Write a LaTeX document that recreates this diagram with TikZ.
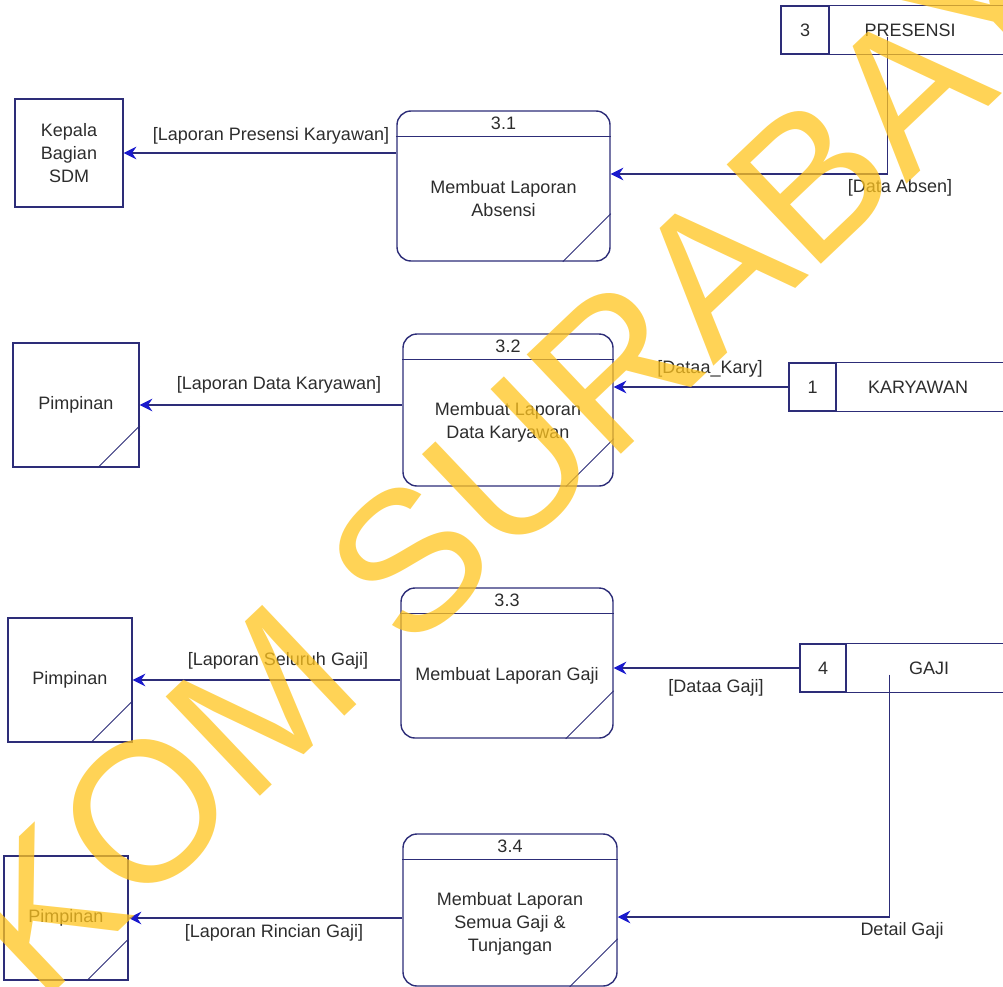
\documentclass[tikz,border=0pt]{standalone}
\usepackage{fontspec}
\setmainfont{Liberation Sans}
\usetikzlibrary{arrows.meta,calc}
\definecolor{dfdline}{RGB}{45,45,120}
\definecolor{dfdtip}{RGB}{25,25,205}
\definecolor{dfdtext}{RGB}{45,45,45}
\definecolor{markyellow}{RGB}{255,196,30}
\newcommand{\px}{0.025cm}
\newcommand{\dfdfont}{\fontsize{12.8}{16.4}\selectfont}
\tikzset{
  line/.style={draw=dfdline, line width=1pt},
  thinline/.style={draw=dfdline, line width=0.6pt},
  txt/.style={text=dfdtext, font=\dfdfont, align=center, inner sep=0pt},
  entity/.style={line, txt, rectangle},
  proc/.style={line, rectangle, rounded corners=0.35cm},
  storeid/.style={line, txt, rectangle},
  flow/.style={line, -{Stealth[length=9pt, width=9pt, inset=3pt, color=dfdtip]}}
}

\begin{document}
\begin{tikzpicture}[x=\px, y=-\px]

            \useasboundingbox (0,0) rectangle (1003,986);
            \clip (0,0) rectangle (1003,986);

            % external entities
            \node[entity, minimum width={108*\px}, minimum height={108*\px}] (kepala) at (69,153) {Kepala\\Bagian\\SDM};
            \node[entity, minimum width={126*\px}, minimum height={124*\px}] (pimpA) at (76,405) {Pimpinan};
            \draw[thinline] ($(pimpA.south east)+(0,-42)$) -- ($(pimpA.south east)+(-42,0)$);
            \node[entity, minimum width={124*\px}, minimum height={124*\px}] (pimpB) at (70,680) {Pimpinan};
            \draw[thinline] ($(pimpB.south east)+(0,-42)$) -- ($(pimpB.south east)+(-42,0)$);
            \node[entity, minimum width={124*\px}, minimum height={124*\px}] (pimpC) at (66,918) {Pimpinan};
            \draw[thinline] ($(pimpC.south east)+(0,-42)$) -- ($(pimpC.south east)+(-42,0)$);

            % process 3.1
            \node[proc, minimum width={213*\px}, minimum height={150*\px}] (p31) at (503.5,186) {};
            \draw[line] ($(p31.north west)+(0,26)$) -- ($(p31.north east)+(0,26)$);
            \draw[thinline] ($(p31.south east)+(0,-48)$) -- ($(p31.south east)+(-48,0)$);
            \node[txt] (n31) at ($(p31.north)+(0,13)$) {3.1};
            \node[txt] (t31) at ($(p31.center)+(0,13)$) {Membuat Laporan\\Absensi};

            % process 3.2
            \node[proc, minimum width={210*\px}, minimum height={152*\px}] (p32) at (508,410) {};
            \draw[line] ($(p32.north west)+(0,26)$) -- ($(p32.north east)+(0,26)$);
            \draw[thinline] ($(p32.south east)+(0,-48)$) -- ($(p32.south east)+(-48,0)$);
            \node[txt] (n32) at ($(p32.north)+(0,13)$) {3.2};
            \node[txt] (t32) at ($(p32.center)+(0,12)$) {Membuat Laporan\\Data Karyawan};

            % process 3.3
            \node[proc, minimum width={212*\px}, minimum height={150*\px}] (p33) at (507,663) {};
            \draw[line] ($(p33.north west)+(0,26)$) -- ($(p33.north east)+(0,26)$);
            \draw[thinline] ($(p33.south east)+(0,-48)$) -- ($(p33.south east)+(-48,0)$);
            \node[txt] (n33) at ($(p33.north)+(0,13)$) {3.3};
            \node[txt] (t33) at ($(p33.center)+(0,13)$) {Membuat Laporan Gaji};

            % process 3.4
            \node[proc, minimum width={214*\px}, minimum height={152*\px}] (p34) at (510,910) {};
            \draw[line] ($(p34.north west)+(0,26)$) -- ($(p34.north east)+(0,26)$);
            \draw[thinline] ($(p34.south east)+(0,-48)$) -- ($(p34.south east)+(-48,0)$);
            \node[txt] (n34) at ($(p34.north)+(0,13)$) {3.4};
            \node[txt] (t34) at ($(p34.center)+(0,14)$) {Membuat Laporan\\Semua Gaji \&\\Tunjangan};

            % data stores
            \node[storeid, minimum width={48*\px}, minimum height={48*\px}] (s3) at (805,30) {3};
            \node[txt, minimum width={162*\px}] (presensi) at (910,30) {PRESENSI};
            \draw[line] (s3.north east) -- ++(220,0);
            \draw[line] (s3.south east) -- ++(220,0);

            \node[storeid, minimum width={47*\px}, minimum height={48*\px}] (s1) at (812.5,387) {1};
            \node[txt, minimum width={164*\px}] (karyawan) at (918,387) {KARYAWAN};
            \draw[line] (s1.north east) -- ++(220,0);
            \draw[line] (s1.south east) -- ++(220,0);

            \node[storeid, minimum width={46*\px}, minimum height={48*\px}] (s4) at (823,668) {4};
            \node[txt, minimum width={166*\px}] (gaji) at (929,668) {GAJI};
            \draw[line] (s4.north east) -- ++(220,0);
            \draw[line] (s4.south east) -- ++(220,0);

            % flows
            \draw[flow] (kepala.east -| p31.west) -- (kepala.east);
            \node[txt] (l31) at (271,136) {[Laporan Presensi Karyawan]};
            \draw[flow] ($(presensi.south west)+(59,0)$) |- ($(p31.east)+(0,-12)$);
            \node[txt] (labsen) at (900,188) {[Data Absen]};

            \draw[flow] (pimpA.east -| p32.west) -- (pimpA.east);
            \node[txt] (l32) at (279,385) {[Laporan Data Karyawan]};
            \draw[flow] (s1.west) -- (s1.west -| p32.east);
            \node[txt] (lkary) at (710,369) {[Dataa\_Kary]};

            \draw[flow] (pimpB.east -| p33.west) -- (pimpB.east);
            \node[txt] (l33) at (278,661) {[Laporan Seluruh Gaji]};
            \draw[flow] (s4.west) -- (s4.west -| p33.east);
            \node[txt] (lgaji) at (716,688) {[Dataa Gaji]};

            \draw[flow] (pimpC.east -| p34.west) -- (pimpC.east);
            \node[txt] (l34) at (274,933) {[Laporan Rincian Gaji]};
            \draw[flow] ($(gaji.south west)+(44,0)$) |- ($(p34.east)+(0,7)$);
            \node[txt] (ldetail) at (902,931) {Detail Gaji};

            % watermark
            \node[rotate=43.5, anchor=base west, inner sep=0pt, text=markyellow, text opacity=0.75,
                  font=\fontsize{141.5}{141.5}\selectfont] (mark) at (40,1006) {KOM SURABAYA};

        \end{tikzpicture}
\end{document}
